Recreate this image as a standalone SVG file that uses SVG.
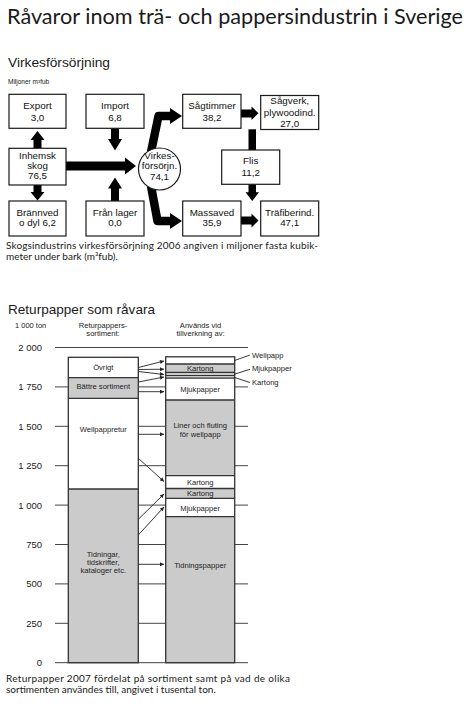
<svg xmlns="http://www.w3.org/2000/svg" width="474" height="711" viewBox="0 0 474 711">
<style>
.bg{fill:#fff}
.box{fill:#fff;stroke:#1a1a1a;stroke-width:1.2}
.lbl{font-family:"Liberation Sans",Arial,sans-serif;font-size:9.8px;fill:#111;text-anchor:middle}
.hum{font-family:Lato,"Open Sans",sans-serif;fill:#1a1a1a}
.sans{font-family:"Liberation Sans",Arial,sans-serif;fill:#1a1a1a}
.thick{fill:#000}
.grid{stroke:#444;stroke-width:1}
.seg{stroke:#333;stroke-width:1.3}
.w{fill:#fff}
.g{fill:#cbcbcb}
.bt{font-family:"Liberation Sans",Arial,sans-serif;font-size:7.6px;fill:#222;text-anchor:middle}
.yl{font-family:"Liberation Sans",Arial,sans-serif;font-size:9.5px;fill:#222;text-anchor:end}
.thin{stroke:#222;stroke-width:0.9;fill:none}
</style>
<defs>
<marker id="ah" viewBox="0 0 10 10" refX="10" refY="5" markerWidth="5" markerHeight="4" markerUnits="userSpaceOnUse" orient="auto">
<path d="M0,0 L10,5 L0,10 Z" fill="#222"/>
</marker>
</defs>
<rect class="bg" x="0" y="0" width="474" height="711"/>

<text class="hum" x="7" y="24" font-size="22" textLength="456" lengthAdjust="spacingAndGlyphs">Råvaror inom trä- och pappersindustrin i Sverige</text>
<text class="sans" x="8" y="67" font-size="12.8" textLength="102" lengthAdjust="spacingAndGlyphs">Virkesförsörjning</text>
<text class="sans" x="8" y="84" font-size="6.5">Miljoner m³fub</text>

<!-- connectors (top) -->
<g id="flow-connectors">
<polygon class="thick" points="33.5,148 33.5,140 30.5,140 37.5,131 44.5,140 41.5,140 41.5,148"/>
<polygon class="thick" points="33.5,185 33.5,192 30.5,192 37.5,200.5 44.5,192 41.5,192 41.5,185"/>
<polygon class="thick" points="111,128 111,139 108,139 115,150.5 122,139 119,139 119,128"/>
<polygon class="thick" points="111,201 111,188.5 108,188.5 115,177.5 122,188.5 119,188.5 119,201"/>
<polygon class="thick" points="66,161.5 125,161.5 125,157.5 136,166 125,174.5 125,170.5 66,170.5"/>
<path d="M151,152 L158.5,116 L171,116" fill="none" stroke="#000" stroke-width="8.5" stroke-linejoin="round"/>
<polygon class="thick" points="170,108 182,116 170,124"/>
<path d="M151,186 L157.5,221 L171,221" fill="none" stroke="#000" stroke-width="8.5" stroke-linejoin="round"/>
<polygon class="thick" points="170,213 182,221 170,229"/>
<polygon class="thick" points="241,109.5 251.5,109.5 251.5,106.5 258.5,113.3 251.5,120 251.5,117.5 241,117.5"/>
<polygon class="thick" points="241,216.5 251.5,216.5 251.5,213.5 258.5,220.5 251.5,227.5 251.5,224.5 241,224.5"/>
<rect class="thick" x="248.5" y="129.3" width="7.5" height="20.7"/>
<polygon class="thick" points="248.5,184.3 256,184.3 256,192.3 259,192.3 252.25,201 245.5,192.3 248.5,192.3"/>
</g>

<g id="export"><rect class="box" x="9" y="94.3" width="57" height="34"/>
<text class="lbl" x="37.5" y="109">Export</text><text class="lbl" x="37.5" y="120.5">3,0</text></g>
<g id="import"><rect class="box" x="86" y="94.3" width="58" height="34"/>
<text class="lbl" x="115" y="109">Import</text><text class="lbl" x="115" y="120.5">6,8</text></g>
<g id="sagtimmer"><rect class="box" x="182.7" y="94.3" width="58.3" height="34"/>
<text class="lbl" x="212" y="109">Sågtimmer</text><text class="lbl" x="212" y="120.5">38,2</text></g>
<g id="sagverk"><rect class="box" x="260.7" y="95.5" width="58" height="34"/>
<text class="lbl" x="289.7" y="104.3">Sågverk,</text><text class="lbl" x="289.7" y="115.5">plywoodind.</text><text class="lbl" x="289.7" y="126.5">27,0</text></g>
<g id="inhemsk"><rect class="box" x="9" y="148.3" width="57" height="36.7"/>
<text class="lbl" x="37.5" y="158.5">Inhemsk</text><text class="lbl" x="37.5" y="168.8">skog</text><text class="lbl" x="37.5" y="179">76,5</text></g>
<g id="virkesforsorjn"><circle cx="159.5" cy="169" r="21" fill="#fff" stroke="#1a1a1a" stroke-width="1.2"/>
<text class="lbl" x="159.5" y="159">Virkes-</text><text class="lbl" x="159.5" y="169.3">försörjn.</text><text class="lbl" x="159.5" y="179.5">74,1</text></g>
<g id="flis"><rect class="box" x="221.7" y="150" width="58" height="34.3"/>
<text class="lbl" x="250.7" y="164">Flis</text><text class="lbl" x="250.7" y="175.7">11,2</text></g>
<g id="brannved"><rect class="box" x="9" y="201" width="57" height="35"/>
<text class="lbl" x="37.5" y="215.7">Brännved</text><text class="lbl" x="37.5" y="225.7">o dyl 6,2</text></g>
<g id="franlager"><rect class="box" x="86" y="201" width="58" height="35"/>
<text class="lbl" x="115" y="215.7">Från lager</text><text class="lbl" x="115" y="225.7">0,0</text></g>
<g id="massaved"><rect class="box" x="182.7" y="201" width="58.3" height="35"/>
<text class="lbl" x="212" y="215.7">Massaved</text><text class="lbl" x="212" y="225.7">35,9</text></g>
<g id="trafiberind"><rect class="box" x="260.7" y="201" width="58" height="35"/>
<text class="lbl" x="289.7" y="215.7">Träfiberind.</text><text class="lbl" x="289.7" y="225.7">47,1</text></g>

<text class="hum" x="6" y="248.5" font-size="10" textLength="312" lengthAdjust="spacing">Skogsindustrins virkesförsörjning 2006 angiven i miljoner fasta kubik-</text>
<text class="hum" x="6" y="259.7" font-size="10">meter under bark (m³fub).</text>

<!-- Chart -->
<text class="sans" x="8" y="313.5" font-size="13.5" textLength="147" lengthAdjust="spacingAndGlyphs">Returpapper som råvara</text>
<text class="sans" x="15" y="327.5" font-size="7.5">1 000 ton</text>
<text class="bt" x="103" y="327.5" font-size="7.8">Returpappers-</text>
<text class="bt" x="103" y="336">sortiment:</text>
<text class="bt" x="200.5" y="327.5">Används vid</text>
<text class="bt" x="200.5" y="336">tillverkning av:</text>

<g id="gridlines">
<line class="grid" x1="55" y1="347.5" x2="248" y2="347.5"/>
<line class="grid" x1="55" y1="386.9" x2="248" y2="386.9"/>
<line class="grid" x1="55" y1="426.3" x2="248" y2="426.3"/>
<line class="grid" x1="55" y1="465.7" x2="248" y2="465.7"/>
<line class="grid" x1="55" y1="505.1" x2="248" y2="505.1"/>
<line class="grid" x1="55" y1="544.5" x2="248" y2="544.5"/>
<line class="grid" x1="55" y1="583.9" x2="248" y2="583.9"/>
<line class="grid" x1="55" y1="623.3" x2="248" y2="623.3"/>
<line class="grid" x1="55" y1="662.7" x2="248" y2="662.7"/>
</g>
<g id="ylabels">
<text class="yl" x="42" y="351">2 000</text>
<text class="yl" x="42" y="390.3">1 750</text>
<text class="yl" x="42" y="429.7">1 500</text>
<text class="yl" x="42" y="469.1">1 250</text>
<text class="yl" x="42" y="508.5">1 000</text>
<text class="yl" x="42" y="547.9">750</text>
<text class="yl" x="42" y="587.3">500</text>
<text class="yl" x="42" y="626.7">250</text>
<text class="yl" x="42" y="666.1">0</text>
</g>

<g id="bar-sortiment">
<rect class="w" x="68.3" y="357.3" width="70" height="20.4"/>
<rect class="g" x="68.3" y="377.7" width="70" height="20.6"/>
<rect class="w" x="68.3" y="398.3" width="70" height="90.7"/>
<rect class="g" x="68.3" y="489" width="70" height="173.7"/>
<line class="seg" x1="68.3" y1="377.7" x2="138.3" y2="377.7"/>
<line class="seg" x1="68.3" y1="398.3" x2="138.3" y2="398.3"/>
<line class="seg" x1="68.3" y1="489" x2="138.3" y2="489"/>
<rect x="68.3" y="357.3" width="70" height="305.4" fill="none" stroke="#333" stroke-width="1.3"/>
<text class="bt" x="103.3" y="370">Övrigt</text>
<text class="bt" x="103.3" y="388.8">Bättre sortiment</text>
<text class="bt" x="103.3" y="432">Wellpappretur</text>
<text class="bt" x="103.3" y="556.5">Tidningar,</text>
<text class="bt" x="103.3" y="564.5">tidskrifter,</text>
<text class="bt" x="103.3" y="572.5">kataloger etc.</text>
</g>

<g id="bar-anvandning">
<rect class="w" x="165.7" y="356.8" width="69" height="7.2"/>
<rect class="g" x="165.7" y="364" width="69" height="8.5"/>
<rect class="w" x="165.7" y="372.5" width="69" height="2.8"/>
<rect class="g" x="165.7" y="375.3" width="69" height="2.9"/>
<rect class="w" x="165.7" y="378.2" width="69" height="21.8"/>
<rect class="g" x="165.7" y="400" width="69" height="75.7"/>
<rect class="w" x="165.7" y="475.7" width="69" height="12.8"/>
<rect class="g" x="165.7" y="488.5" width="69" height="9.9"/>
<rect class="w" x="165.7" y="498.4" width="69" height="18.3"/>
<rect class="g" x="165.7" y="516.7" width="69" height="146"/>
<line class="seg" x1="165.7" y1="364" x2="234.7" y2="364"/>
<line class="seg" x1="165.7" y1="372.5" x2="234.7" y2="372.5"/>
<line class="seg" x1="165.7" y1="375.3" x2="234.7" y2="375.3"/>
<line class="seg" x1="165.7" y1="378.2" x2="234.7" y2="378.2"/>
<line class="seg" x1="165.7" y1="400" x2="234.7" y2="400"/>
<line class="seg" x1="165.7" y1="475.7" x2="234.7" y2="475.7"/>
<line class="seg" x1="165.7" y1="488.5" x2="234.7" y2="488.5"/>
<line class="seg" x1="165.7" y1="498.4" x2="234.7" y2="498.4"/>
<line class="seg" x1="165.7" y1="516.7" x2="234.7" y2="516.7"/>
<rect x="165.7" y="356.8" width="69" height="305.9" fill="none" stroke="#333" stroke-width="1.3"/>
<text class="bt" x="200.2" y="370.8">Kartong</text>
<text class="bt" x="200.2" y="391.8">Mjukpapper</text>
<text class="bt" x="200.2" y="427.8">Liner och fluting</text>
<text class="bt" x="200.2" y="437">för wellpapp</text>
<text class="bt" x="200.2" y="485">Kartong</text>
<text class="bt" x="200.2" y="495.7">Kartong</text>
<text class="bt" x="200.2" y="511">Mjukpapper</text>
<text class="bt" x="200.2" y="567.7">Tidningspapper</text>
</g>

<g id="chart-connectors">
<line class="thin" x1="138.3" y1="367.5" x2="164" y2="361" marker-end="url(#ah)"/>
<line class="thin" x1="138.3" y1="369.5" x2="164" y2="369.2" marker-end="url(#ah)"/>
<line class="thin" x1="138.3" y1="371.5" x2="164" y2="374.5" marker-end="url(#ah)"/>
<line class="thin" x1="138.3" y1="382" x2="164" y2="377" marker-end="url(#ah)"/>
<line class="thin" x1="138.3" y1="391.7" x2="164" y2="391.7" marker-end="url(#ah)"/>
<line class="thin" x1="138.3" y1="434.3" x2="164" y2="434.3" marker-end="url(#ah)"/>
<line class="thin" x1="138.3" y1="458.3" x2="164" y2="481.5" marker-end="url(#ah)"/>
<line class="thin" x1="138.3" y1="519.3" x2="164" y2="494" marker-end="url(#ah)"/>
<line class="thin" x1="138.3" y1="535" x2="164" y2="507" marker-end="url(#ah)"/>
<line class="thin" x1="138.3" y1="564.3" x2="164" y2="564.3" marker-end="url(#ah)"/>
<line class="thin" x1="234" y1="360.7" x2="250" y2="355"/>
<line class="thin" x1="234" y1="374.3" x2="250" y2="369.3"/>
<line class="thin" x1="234" y1="377.3" x2="250" y2="382.5"/>
</g>
<text class="sans" x="252" y="357.8" font-size="7.6" fill="#222">Wellpapp</text>
<text class="sans" x="252" y="371.2" font-size="7.6" fill="#222">Mjukpapper</text>
<text class="sans" x="252" y="384.5" font-size="7.6" fill="#222">Kartong</text>

<text class="hum" x="6" y="681.5" font-size="10" textLength="284" lengthAdjust="spacing">Returpapper 2007 fördelat på sortiment samt på vad de olika</text>
<text class="hum" x="6" y="692.7" font-size="10">sortimenten användes till, angivet i tusental ton.</text>
</svg>
